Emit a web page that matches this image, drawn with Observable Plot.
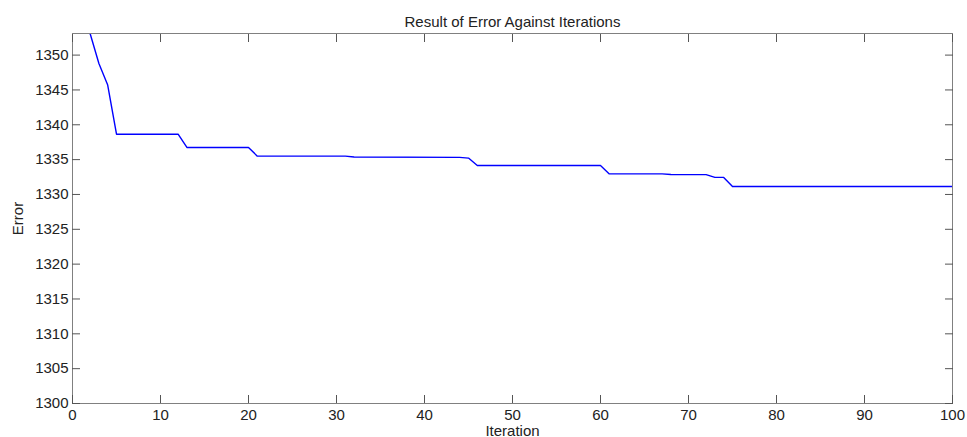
<!DOCTYPE html>
<html>
<head>
<meta charset="utf-8">
<script src="https://cdn.jsdelivr.net/npm/d3@7"></script>
<script src="https://cdn.jsdelivr.net/npm/@observablehq/plot@0.6"></script>
<style>
  html, body { margin: 0; padding: 0; background: #fff; }
  #chart svg { display: block; }
</style>
</head>
<body>
<div id="chart"></div>
<script>
const titleText = "Result of Error Against Iterations";
const xLabel = "Iteration";
const yLabel = "Error";

// Breakpoints of the error curve (iteration, error)
const iterations = [1, 2, 3, 4, 5, 12, 13, 20, 21, 31, 32, 44, 45, 46, 60, 61, 67, 68, 72, 73, 74, 75, 100];
const errors = [1353.4, 1353.1, 1348.8, 1345.7, 1338.65, 1338.65, 1336.75, 1336.75, 1335.5, 1335.5, 1335.38, 1335.32, 1335.22, 1334.15, 1334.15, 1332.95, 1332.95, 1332.87, 1332.85, 1332.45, 1332.45, 1331.15, 1331.15];

const xTicks = [0, 10, 20, 30, 40, 50, 60, 70, 80, 90, 100];
const yTicks = [1300, 1305, 1310, 1315, 1320, 1325, 1330, 1335, 1340, 1345, 1350];
const xDomain = [0, 100];
const yDomain = [1300, 1353.1];

const data = iterations.map((it, i) => ({iteration: it, error: errors[i]}));

const tickColor = "#555";
const frameColor = "#808080";
const fmt = d => String(d);

const chart = Plot.plot({
  width: 967,
  height: 437,
  marginLeft: 72,
  marginRight: 15,
  marginTop: 33,
  marginBottom: 34,
  style: {fontFamily: "'Liberation Sans', Arial, sans-serif", fontSize: "15px", color: "#222", background: "#fff"},
  x: {domain: xDomain, ticks: xTicks},
  y: {domain: yDomain, ticks: yTicks},
  marks: [
    Plot.line(data, {x: "iteration", y: "error", stroke: "#0000ff", strokeWidth: 1.4, clip: true}),
    Plot.frame({stroke: frameColor, strokeWidth: 1}),
    Plot.axisX({ticks: xTicks, tickSize: -8, stroke: tickColor, text: null, label: null}),
    Plot.axisX({anchor: "top", ticks: xTicks, tickSize: -8, stroke: tickColor, text: null, label: null}),
    Plot.axisY({ticks: yTicks, tickSize: -8, stroke: tickColor, text: null, label: null}),
    Plot.axisY({anchor: "right", ticks: yTicks, tickSize: -8, stroke: tickColor, text: null, label: null}),
    Plot.axisX({ticks: xTicks, tickSize: 0, tickPadding: 6, fontSize: 15, fill: "#222", tickFormat: fmt,
      label: xLabel, labelAnchor: "center", labelOffset: 32, labelArrow: "none"}),
    Plot.axisY({ticks: yTicks, tickSize: 0, tickPadding: 4, fontSize: 15, fill: "#222", tickFormat: fmt,
      label: yLabel, labelAnchor: "center", labelOffset: 60, labelArrow: "none"}),
    Plot.text([titleText], {frameAnchor: "top", dy: -17, fontSize: 15, fill: "#222"})
  ]
});
document.getElementById("chart").appendChild(chart);
</script>
</body>
</html>
